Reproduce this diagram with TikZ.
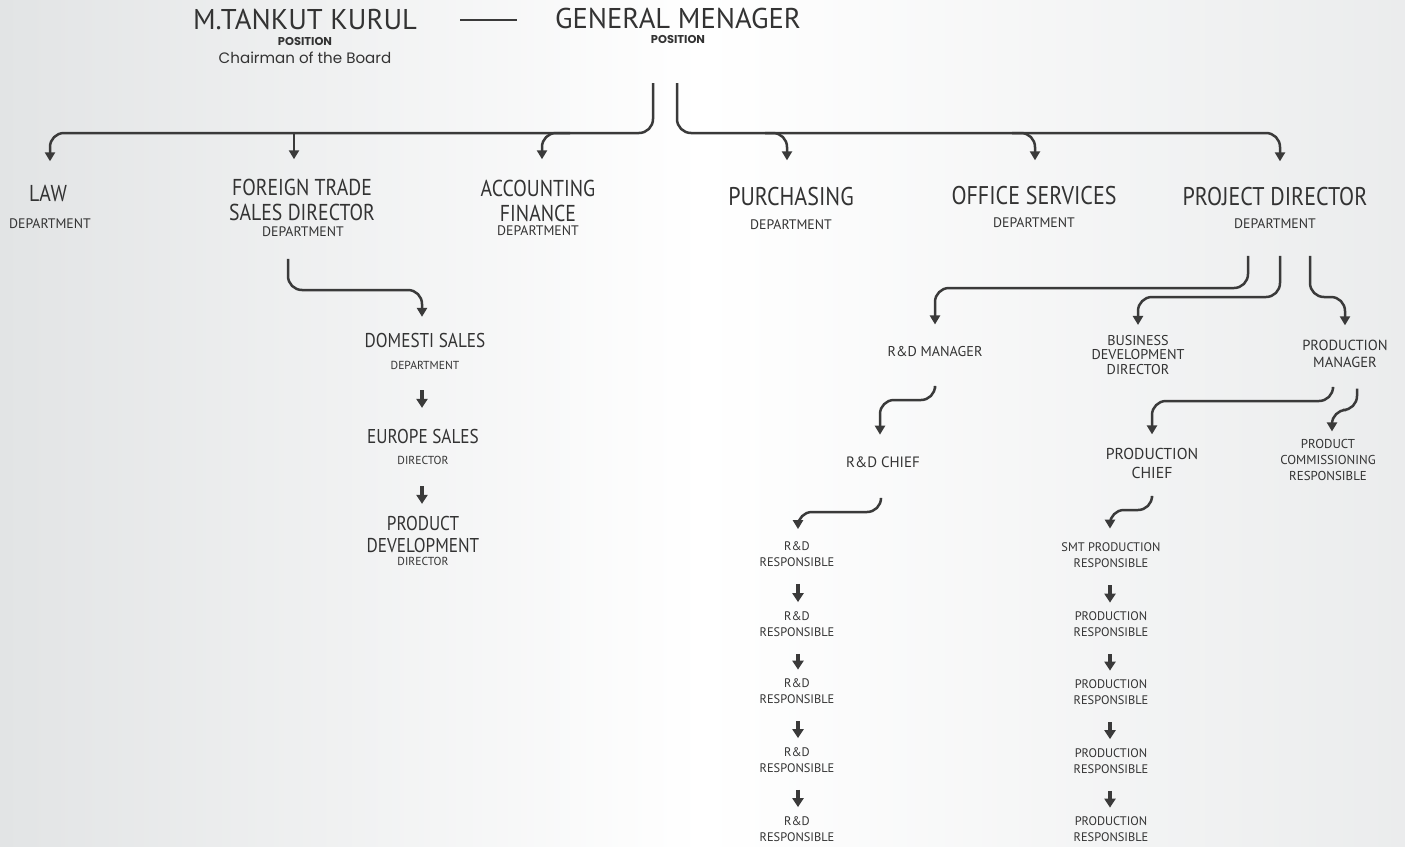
\documentclass[tikz,border=0pt]{standalone}
\usepackage{fontspec}
\setmainfont{PT Sans}
\newfontfamily\cond{PT Sans}[FakeStretch=0.86]
\newfontfamily\popp{Poppins}
\usetikzlibrary{calc}
\usetikzlibrary{arrows.meta}

\definecolor{ink}{HTML}{333333}
\definecolor{wire}{HTML}{3A3A3A}
\definecolor{bgedge}{HTML}{E2E4E5}

\newcommand\fA{\fontsize{14.3}{16}\selectfont}
\newcommand\fB{\cond\fontsize{11.5}{12.5}\selectfont}
\newcommand\fBB{\cond\fontsize{12.8}{14}\selectfont}
\newcommand\fC{\fontsize{6.9}{7}\selectfont}
\newcommand\fD{\cond\fontsize{10}{11}\selectfont}
\newcommand\fE{\fontsize{5.8}{6}\selectfont}
\newcommand\fF{\fontsize{7.1}{7.25}\selectfont}
\newcommand\fG{\fontsize{7.5}{9.5}\selectfont}
\newcommand\fH{\fontsize{6.2}{8}\selectfont}
\newcommand\fI{\fontsize{6.45}{8}\selectfont}

\begin{document}
\begin{tikzpicture}[x=0.5pt, y=-0.5pt,
  every node/.style={inner sep=0pt, text=ink, align=center},
  boss/.style={font=\fA},
  dept/.style={font=\fB},
  deptsub/.style={font=\fC},
  unit/.style={font=\fD},
  unitsub/.style={font=\fE},
  mgr/.style={font=\fF},
  chief/.style={font=\fG},
  resp/.style={font=\fH},
  postag/.style={font=\popp\bfseries\fontsize{5.7}{6}\selectfont},
  link/.style={draw=wire, line width=1.25pt, rounded corners=7pt, -{Triangle[width=5pt,length=4.5pt]}},
  push/.style={draw=wire, line width=2pt, -{Triangle[width=5.5pt,length=4.5pt]}},
  tie/.style={draw=wire, line width=1pt}]
\useasboundingbox (0,0) rectangle (1405,847);
\fill[left color=bgedge, right color=bgedge!70!white, middle color=white] (0,0) rectangle (1405,847);

% top
\node[boss] (kurul) at (305,20) {M.TANKUT KURUL};
\node[postag] (kurulpos) at (305,41) {POSITION};
\node[font=\popp\fontsize{7.55}{8}\selectfont] (chair) at (305,58) {Chairman of the Board};
\node[boss] (gm) at (678,18) {GENERAL MENAGER};
\node[postag] (gmpos) at (678,39) {POSITION};
\draw[tie, shorten <=21.5pt, shorten >=19pt] (kurul.east) -- (kurul.east -| gm.west);

% departments
\node[dept] (law) at (48,193) {LAW};
\node[deptsub] (lawsub) at (50,224) {DEPARTMENT};
\node[dept] (foreign) at (302,199.5) {FOREIGN TRADE\\SALES DIRECTOR};
\node[deptsub] (foreignsub) at (303,232) {DEPARTMENT};
\node[dept] (acc) at (538,200.5) {ACCOUNTING\\FINANCE};
\node[deptsub] (accsub) at (538,231) {DEPARTMENT};
\node[dept, font=\fBB] (purch) at (791,197) {PURCHASING};
\node[deptsub] (purchsub) at (791,225) {DEPARTMENT};
\node[dept, font=\fBB] (office) at (1034,196) {OFFICE SERVICES};
\node[deptsub] (officesub) at (1034,223) {DEPARTMENT};
\node[dept, font=\fBB] (project) at (1275,197) {PROJECT DIRECTOR};
\node[deptsub] (projectsub) at (1275,224) {DEPARTMENT};

\draw[link, shorten <=19.75pt, shorten >=11.5pt] ([xshift=-12.5pt]gmpos.south) |- ([xshift=1pt]law.north |- 0,133) -- ([xshift=1pt]law.north);
\draw[link, shorten >=9.5pt] ([xshift=-4pt]foreign.north |- 0,133) -- ([xshift=-4pt]foreign.north);
\draw[link, shorten >=10pt] (570,133) -| ([xshift=2pt]acc.north);
\draw[link, shorten <=19.75pt, shorten >=13pt] ([xshift=-0.5pt]gmpos.south) |- ([xshift=2.5pt]project.north |- 0,133) -- ([xshift=2.5pt]project.north);
\draw[link, shorten >=13.5pt] (765,133) -| ([xshift=-2pt]purch.north);
\draw[link, shorten >=13pt] (1012,133) -| ([xshift=0.5pt]office.north);

% sales
\node[unit] (dom) at (425,340) {DOMESTI SALES};
\node[unitsub] (domsub) at (425,365) {DEPARTMENT};
\node[unit] (euro) at (423,436) {EUROPE SALES};
\node[unitsub] (eurosub) at (423,460) {DIRECTOR};
\node[unit] (prod) at (423,534) {PRODUCT\\DEVELOPMENT};
\node[unitsub] (prodsub) at (423,561) {DIRECTOR};

\draw[link, shorten <=10.75pt, shorten >=7.75pt] ([xshift=-7.5pt]foreignsub.south) |- ([xshift=-1.5pt]dom.north |- 0,290) -- ([xshift=-1.5pt]dom.north);
\draw[push, shorten <=10.25pt, shorten >=10.25pt] ([xshift=-1.5pt]domsub.south) -- ([xshift=-1.5pt]domsub.south |- euro.north);
\draw[push, shorten <=10.75pt, shorten >=5.75pt] ([xshift=-0.5pt]eurosub.south) -- ([xshift=-0.5pt]eurosub.south |- prod.north);

% project
\node[mgr] (rdm) at (935,352) {R\&D MANAGER};
\node[mgr] (bdd) at (1138,355) {BUSINESS\\DEVELOPMENT\\DIRECTOR};
\node[mgr, font=\fontsize{7.3}{8.5}\selectfont] (pm) at (1345,353.5) {PRODUCTION\\MANAGER};

\draw[link, shorten <=13.25pt, shorten >=11pt] ([xshift=-13.5pt]projectsub.south) |- (rdm.north |- 0,288) -- (rdm.north);
\draw[link, shorten <=13.25pt, shorten >=5pt] ([xshift=2.5pt]projectsub.south) |- (bdd.north |- 0,297) -- (bdd.north);
\draw[link, shorten <=13.25pt, shorten >=7pt] ([xshift=17.5pt]projectsub.south) |- (pm.north |- 0,297) -- (pm.north);

\node[chief] (rdc) at (883,462) {R\&D CHIEF};
\node[chief, font=\fontsize{7.9}{9.5}\selectfont] (pc) at (1152,463.5) {PRODUCTION\\CHIEF};
\node[font=\fI] (pcr) at (1328,460) {PRODUCT\\COMMISSIONING\\RESPONSIBLE};

\draw[link, shorten <=15.5pt, shorten >=10.75pt] (rdm.south) |- ([xshift=-1.5pt]rdc.north |- 0,400) -- ([xshift=-1.5pt]rdc.north);
\draw[link, shorten <=10.5pt, shorten >=6.75pt] ([xshift=-6pt]pm.south) |- (pc.north |- 0,401) -- (pc.north);
\draw[link, shorten <=10.5pt, shorten >=3.75pt] ([xshift=6pt]pm.south) |- ([xshift=2pt]pcr.north |- 0,410) -- ([xshift=2pt]pcr.north);

% responsibles
\foreach \i/\yy in {1/554,2/624,3/691.5,4/760,5/829}
  \node[resp] (rd\i) at (797,\yy) {R\&D\\RESPONSIBLE};
\node[resp] (pr1) at (1111,555.5) {SMT PRODUCTION\\RESPONSIBLE};
\foreach \i/\yy in {2/624.5,3/692.5,4/761,5/829.5}
  \node[resp] (pr\i) at (1111,\yy) {PRODUCTION\\RESPONSIBLE};

\draw[link, shorten <=15.25pt, shorten >=6pt] ([xshift=-1pt]rdc.south) |- ([xshift=0.5pt]rd1.north |- 0,512) -- ([xshift=0.5pt]rd1.north);
\draw[link, shorten <=9.25pt, shorten >=7pt] (pc.south) |- ([xshift=-0.5pt]pr1.north |- 0,510) -- ([xshift=-0.5pt]pr1.north);
\foreach \i [count=\j from 2] in {1,...,4} {
  \draw[push, shorten <=8.5pt, shorten >=4.5pt] ([xshift=0.5pt]rd\i.south) -- ([xshift=0.5pt]rd\i.south |- rd\j.north);
  \draw[push, shorten <=8.5pt, shorten >=4.5pt] ([xshift=-0.5pt]pr\i.south) -- ([xshift=-0.5pt]pr\i.south |- pr\j.north);
}
\end{tikzpicture}
\end{document}
